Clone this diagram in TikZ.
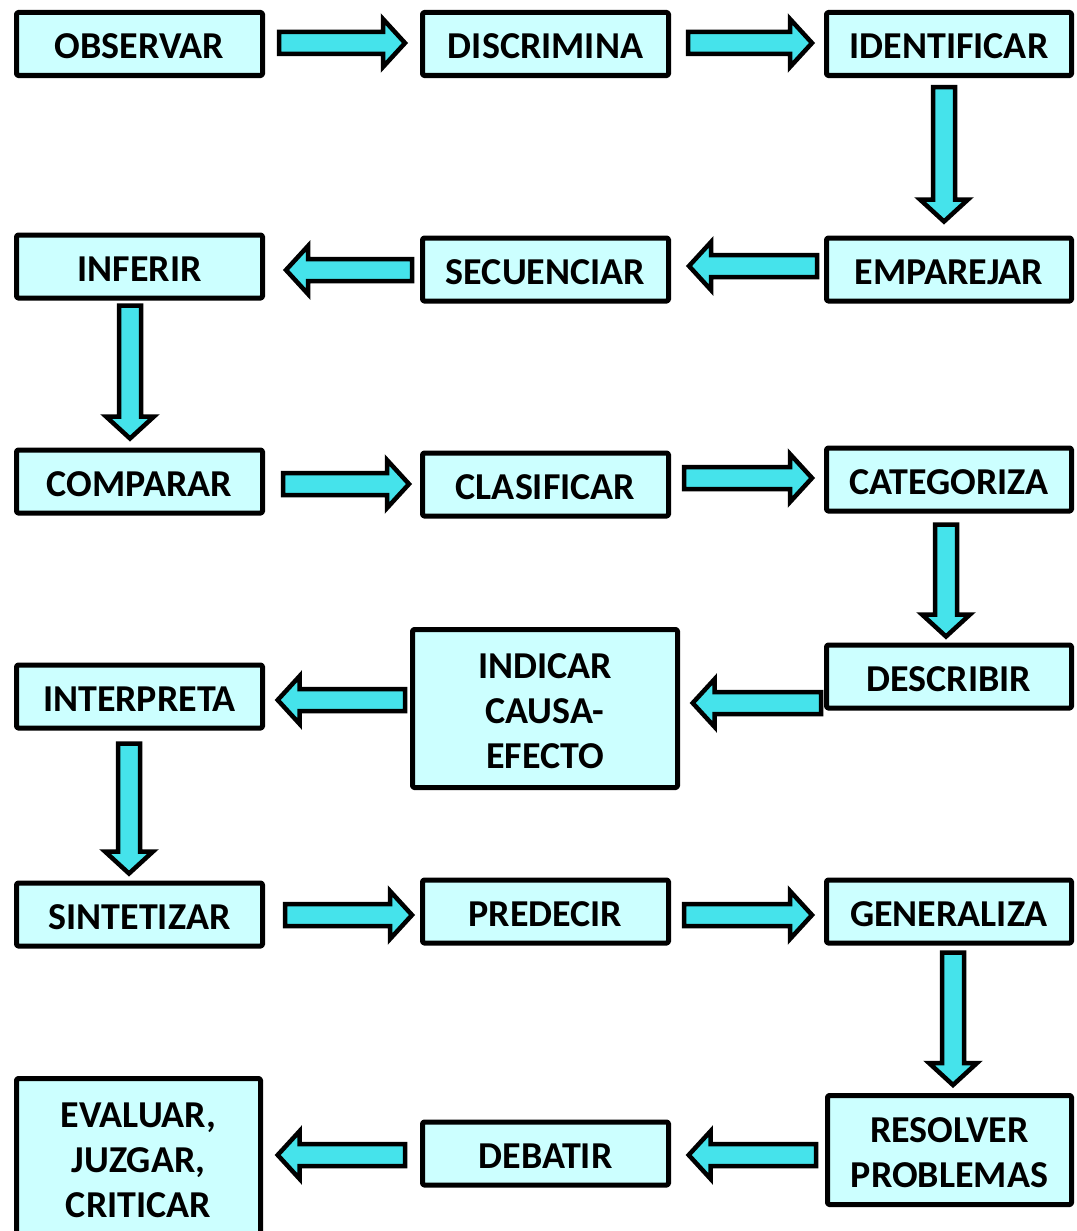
\documentclass[tikz,border=0pt]{standalone}
\usepackage{fontspec}
\setmainfont{Carlito}
\usetikzlibrary{calc}
\definecolor{boxfill}{RGB}{204,255,255}
\definecolor{arrowfill}{RGB}{69,227,235}
\newcommand\blkarrow[2]{%
	\draw[blockarrow] let \p1=#1, \p2=#2, \n1={atan2(\y2-\y1,\x2-\x1)}, \n2={veclen(\x2-\x1,\y2-\y1)} in
	[shift={(\p1)}, rotate=\n1] (0,-11) -- (\n2-22,-11) -- (\n2-22,-24) -- (\n2,0) -- (\n2-22,24) -- (\n2-22,11) -- (0,11) -- cycle;}

\begin{document}
\begin{tikzpicture}[x=1pt, y=-1pt, line join=round,
	stepbox/.style={draw=black, line width=5pt, fill=boxfill, rounded corners=1.5pt, inner sep=0pt, align=center,
		minimum width=246pt, minimum height=63pt, text height=30pt, font=\fontsize{38}{45}\selectfont\bfseries},
	blockarrow/.style={draw=black, line width=4.5pt, fill=arrowfill, line join=miter}]
	\useasboundingbox (0,0) rectangle (1076,1231);
	\node[stepbox] (obs) at (139.5,44) {OBSERVAR};
	\node[stepbox] (dis) at (545.5,44) {DISCRIMINA};
	\node[stepbox, minimum width=245pt] (ide) at (949,44) {IDENTIFICAR};
	\node[stepbox] (inf) at (139.5,266.5) {INFERIR};
	\node[stepbox] (sec) at (545.5,269.5) {SECUENCIAR};
	\node[stepbox, minimum width=245pt] (emp) at (949,269.5) {EMPAREJAR};
	\node[stepbox] (com) at (139.5,481.5) {COMPARAR};
	\node[stepbox] (cla) at (545.5,484.5) {CLASIFICAR};
	\node[stepbox, minimum width=245pt] (cat) at (949,479.5) {CATEGORIZA};
	\node[stepbox, minimum width=245pt] (des) at (949,676.5) {DESCRIBIR};
	\node[stepbox, minimum width=265pt, minimum height=158pt, text height=120pt] (ind) at (545,708.5) {INDICAR\\CAUSA-\\EFECTO};
	\node[stepbox] (int) at (139.5,696.5) {INTERPRETA};
	\node[stepbox] (sin) at (139.5,914.5) {SINTETIZAR};
	\node[stepbox] (pre) at (545.5,911.5) {PREDECIR};
	\node[stepbox, minimum width=245pt] (gen) at (949,911.5) {GENERALIZA};
	\node[stepbox, minimum width=244pt, minimum height=109pt, text height=75pt] (res) at (949.5,1150) {RESOLVER\\PROBLEMAS};
	\node[stepbox] (deb) at (545.5,1153.5) {DEBATIR};
	\node[stepbox, minimum width=244pt, minimum height=159pt, text height=120pt] (eva) at (138.5,1158) {EVALUAR,\\JUZGAR,\\CRITICAR};
	\blkarrow{($(obs.east)+(14,-1)$)}{($(dis.west)+(-15,-1)$)}
	\blkarrow{($(dis.east)+(17,-1)$)}{($(ide.west)+(-12,-1)$)}
	\blkarrow{($(ide.south)+(-5,9)$)}{($(emp.north)+(-5,-14)$)}
	\blkarrow{($(emp.west)+(-7,-3.5)$)}{($(sec.east)+(18,-3.5)$)}
	\blkarrow{($(sec.west)+(-8,0.5)$)}{($(inf.east)+(21,3.5)$)}
	\blkarrow{($(inf.south)+(-9.5,5)$)}{($(com.north)+(-9.5,-9)$)}
	\blkarrow{($(com.east)+(18,2.5)$)}{($(cla.west)+(-11,-0.5)$)}
	\blkarrow{($(cla.east)+(13,-6.5)$)}{($(cat.west)+(-12,-1.5)$)}
	\blkarrow{($(cat.south)+(-3,11)$)}{($(des.north)+(-3,-6)$)}
	\blkarrow{($(des.west)+(-3,26.5)$)}{($(ind.east)+(12.7,-5.5)$)}
	\blkarrow{($(ind.west)+(-5,-8.5)$)}{($(int.east)+(12.7,3.5)$)}
	\blkarrow{($(int.south)+(-10.5,13)$)}{($(sin.north)+(-10.5,-7)$)}
	\blkarrow{($(sin.east)+(20,0.5)$)}{($(pre.west)+(-8,3.5)$)}
	\blkarrow{($(pre.east)+(13,3.5)$)}{($(gen.west)+(-12,3.5)$)}
	\blkarrow{($(gen.south)+(4,7)$)}{($(res.north)+(3.5,-8)$)}
	\blkarrow{($(res.west)+(-9,5)$)}{($(deb.east)+(17.7,1.5)$)}
	\blkarrow{($(deb.west)+(-15,1.5)$)}{($(eva.east)+(14.7,-3)$)}
\end{tikzpicture}
\end{document}
